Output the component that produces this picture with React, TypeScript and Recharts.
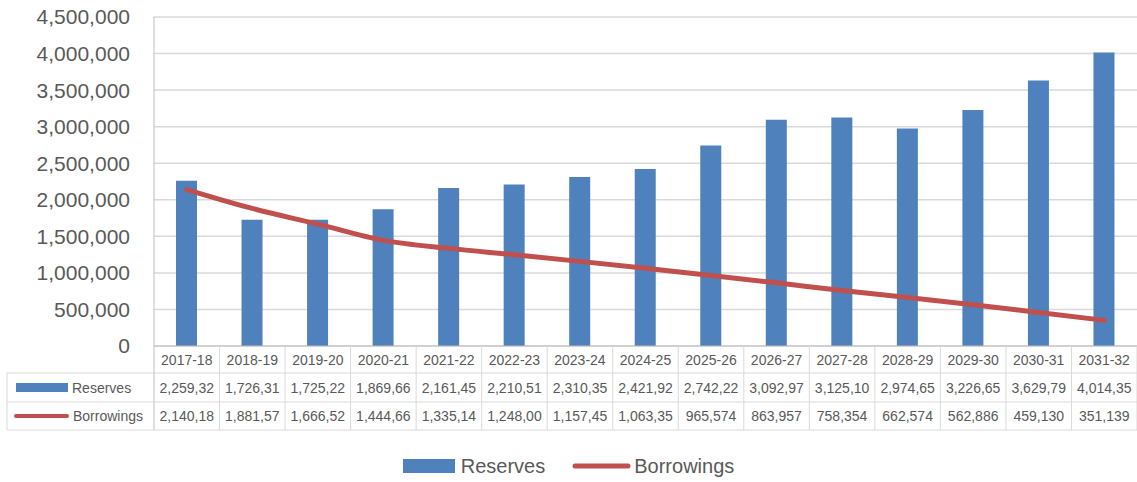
import React from 'react';
import { ComposedChart, Bar, Line, XAxis, YAxis, CartesianGrid, Legend } from 'recharts';

const categories = [
  '2017-18', '2018-19', '2019-20', '2020-21', '2021-22', '2022-23', '2023-24', '2024-25',
  '2025-26', '2026-27', '2027-28', '2028-29', '2029-30', '2030-31', '2031-32',
];
const reserves = [
  2259320, 1726310, 1725220, 1869660, 2161450, 2210510, 2310350, 2421920,
  2742220, 3092970, 3125100, 2974650, 3226650, 3629790, 4014350,
];
const borrowings = [
  2140180, 1881570, 1666520, 1444660, 1335140, 1248000, 1157450, 1063350,
  965574, 863957, 758354, 662574, 562886, 459130, 351139,
];
const yTicks = [0, 500000, 1000000, 1500000, 2000000, 2500000, 3000000, 3500000, 4000000, 4500000];
const seriesOrder = ['Reserves', 'Borrowings'];

const data = categories.map((year, i) => ({
  year,
  Reserves: reserves[i],
  Borrowings: borrowings[i],
}));

const BLUE = '#4F81BD';
const RED = '#C0504D';
const TEXT = '#595959';
const BORDER = '#D9D9D9';
const FONT = '"Liberation Sans", Arial, sans-serif';

const CHART_W = 1137;
const CHART_H = 482;
const Y_W = 154;
const colW = (CHART_W - Y_W) / categories.length;

// Excel cuts the cell text when it does not fit
const cellText = (v: number) => v.toLocaleString('en-US').slice(0, 8);

// x axis tick draws one column of the data table
const TableTick = (props: any) => {
  const { x, y, payload, index } = props;
  const left = x - colW / 2;
  const right = x + colW / 2;
  const r1 = y + 27;
  const r2 = y + 56;
  const r3 = y + 84;
  const i = categories.indexOf(payload.value);
  const txt = { fontSize: 14, fill: TEXT, fontFamily: FONT, textAnchor: 'middle' as const };
  return (
    <g>
      <line x1={right} y1={y} x2={right} y2={r3} stroke={BORDER} />
      <line x1={left} y1={r1} x2={right} y2={r1} stroke={BORDER} />
      <line x1={left} y1={r2} x2={right} y2={r2} stroke={BORDER} />
      <line x1={left} y1={r3} x2={right} y2={r3} stroke={BORDER} />
      <text x={x} y={y + 19} {...txt}>{payload.value}</text>
      <text x={x} y={r1 + 20} {...txt}>{cellText(reserves[i])}</text>
      <text x={x} y={r2 + 19} {...txt}>{cellText(borrowings[i])}</text>
      {index === 0 && (
        <g>
          <line x1={left} y1={y} x2={left} y2={r3} stroke="#BFBFBF" />
          <line x1={7} y1={r1} x2={left} y2={r1} stroke={BORDER} />
          <line x1={7} y1={r2} x2={left} y2={r2} stroke={BORDER} />
          <line x1={7} y1={r3} x2={left} y2={r3} stroke={BORDER} />
          <line x1={7} y1={r1} x2={7} y2={r3} stroke={BORDER} />
          <rect x={16} y={r1 + 10} width={52} height={9} fill={BLUE} />
          <text x={72} y={r1 + 20} fontSize={14} fill={TEXT} fontFamily={FONT}>Reserves</text>
          <line x1={16} y1={r2 + 14} x2={67} y2={r2 + 14} stroke={RED} strokeWidth={4} strokeLinecap="round" />
          <text x={73} y={r2 + 19} fontSize={14} fill={TEXT} fontFamily={FONT}>Borrowings</text>
        </g>
      )}
    </g>
  );
};

const renderLegend = (props: any) => {
  const items = [...(props.payload || [])].sort(
    (a: any, b: any) => seriesOrder.indexOf(a.value) - seriesOrder.indexOf(b.value)
  );
  return (
    <div
      style={{
        display: 'flex',
        justifyContent: 'center',
        alignItems: 'center',
        height: 36,
        paddingTop: 4,
        boxSizing: 'border-box',
        fontSize: 20,
        color: TEXT,
        fontFamily: FONT,
      }}
    >
      {items.map((it: any, k: number) => (
        <span key={it.value} style={{ display: 'flex', alignItems: 'center', marginRight: k === 0 ? 27 : 0 }}>
          {it.type === 'rect' ? (
            <span style={{ display: 'inline-block', width: 52, height: 14, background: it.color, marginRight: 6 }} />
          ) : (
            <svg width={59} height={8} style={{ marginRight: 3 }}>
              <line x1={3} y1={4} x2={56} y2={4} stroke={it.color} strokeWidth={5} strokeLinecap="round" />
            </svg>
          )}
          {it.value}
        </span>
      ))}
    </div>
  );
};

export default function App() {
  return (
    <div style={{ position: 'absolute', left: 0, top: 0, width: CHART_W, height: CHART_H, background: '#fff' }}>
      <ComposedChart
        width={CHART_W}
        height={CHART_H}
        data={data}
        margin={{ top: 17, right: 0, bottom: 0, left: 0 }}
      >
        <CartesianGrid vertical={false} stroke={BORDER} strokeWidth={1.5} />
        <XAxis
          dataKey="year"
          height={100}
          interval={0}
          tickLine={false}
          tickSize={0}
          tickMargin={0}
          axisLine={{ stroke: '#BFBFBF' }}
          tick={<TableTick />}
        />
        <YAxis
          width={Y_W}
          domain={[0, 4500000]}
          ticks={yTicks}
          interval={0}
          tickLine={false}
          tickSize={0}
          tickMargin={24}
          axisLine={{ stroke: '#BFBFBF' }}
          tick={{ fontSize: 21, fill: TEXT, fontFamily: FONT }}
          tickFormatter={(v: number) => v.toLocaleString('en-US')}
        />
        <Legend verticalAlign="bottom" height={36} content={renderLegend} />
        <Bar dataKey="Reserves" fill={BLUE} barSize={21} legendType="rect" isAnimationActive={false} />
        <Line
          dataKey="Borrowings"
          type="monotone"
          stroke={RED}
          strokeWidth={5}
          strokeLinecap="round"
          dot={false}
          legendType="line"
          isAnimationActive={false}
        />
      </ComposedChart>
    </div>
  );
}
